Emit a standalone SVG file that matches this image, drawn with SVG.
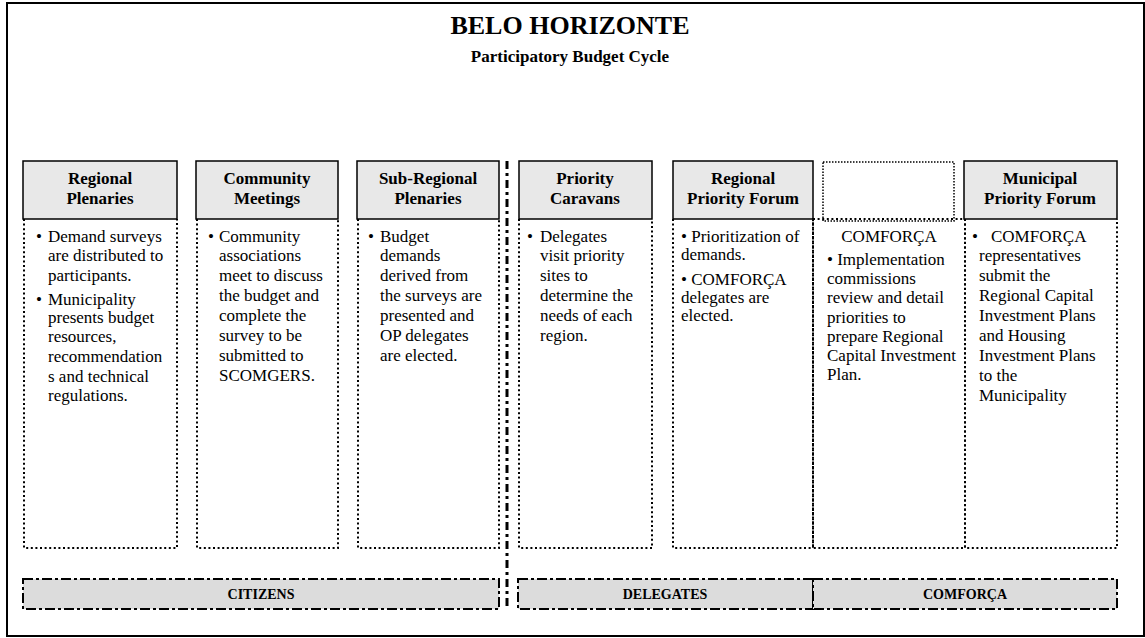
<svg xmlns="http://www.w3.org/2000/svg" width="1145" height="638" viewBox="0 0 1145 638">
<style>
text{font-family:"Liberation Serif","Times New Roman",serif;fill:#000}
.title{font-size:26px;font-weight:bold;text-anchor:middle}
.sub{font-size:17px;font-weight:bold;text-anchor:middle}
.hdr{fill:#e8e8e8;stroke:#000;stroke-width:1.5}
.hdrdot{fill:none;stroke:#000;stroke-width:1.5;stroke-dasharray:1.5 1.5}
.ht{font-size:17px;font-weight:bold;text-anchor:middle}
.body{fill:none;stroke:#000;stroke-width:2;stroke-dasharray:2 2.6}
.bt{font-size:17px}
.band{fill:#dcdcdc;stroke:#000;stroke-width:2;stroke-dasharray:10 3 3 3}
.bl{font-size:14px;font-weight:bold;text-anchor:middle}
.div{fill:none;stroke:#000;stroke-width:3;stroke-dasharray:8 4 3 4}
</style>
<rect x="7" y="3" width="1137" height="633" fill="#fff" stroke="#000" stroke-width="2"/>
<text class="title" x="570" y="34">BELO HORIZONTE</text>
<text class="sub" x="570" y="62">Participatory Budget Cycle</text>

<g id="connectors">
<line class="div" x1="507" y1="161" x2="507" y2="610"/>
</g>

<g id="regional-plenaries">
<path class="body" d="M24 219V548H177V219"/>
<rect class="hdr" x="23" y="161" width="154" height="58"/>
<text class="ht" x="100" y="184">Regional</text>
<text class="ht" x="100" y="204">Plenaries</text>
<text class="bt"><tspan x="36" y="242">•</tspan><tspan x="48" y="242">Demand surveys</tspan><tspan x="48" y="261">are distributed to</tspan><tspan x="48" y="281">participants.</tspan><tspan x="36" y="305">•</tspan><tspan x="48" y="305">Municipality</tspan><tspan x="48" y="323">presents budget</tspan><tspan x="48" y="342">resources,</tspan><tspan x="48" y="362">recommendation</tspan><tspan x="48" y="382">s and technical</tspan><tspan x="48" y="401">regulations.</tspan></text>
</g>

<g id="community-meetings">
<path class="body" d="M197 219V548H338V219"/>
<rect class="hdr" x="196" y="161" width="142" height="58"/>
<text class="ht" x="267" y="184">Community</text>
<text class="ht" x="267" y="204">Meetings</text>
<text class="bt"><tspan x="208" y="242">•</tspan><tspan x="219" y="242">Community</tspan><tspan x="219" y="261">associations</tspan><tspan x="219" y="281">meet to discuss</tspan><tspan x="219" y="301">the budget and</tspan><tspan x="219" y="321">complete the</tspan><tspan x="219" y="341">survey to be</tspan><tspan x="219" y="361">submitted to</tspan><tspan x="219" y="381">SCOMGERS.</tspan></text>
</g>

<g id="sub-regional-plenaries">
<path class="body" d="M358 219V548H499V219"/>
<rect class="hdr" x="357" y="161" width="142" height="58"/>
<text class="ht" x="428" y="184">Sub-Regional</text>
<text class="ht" x="428" y="204">Plenaries</text>
<text class="bt"><tspan x="368" y="242">•</tspan><tspan x="380" y="242">Budget</tspan><tspan x="380" y="261">demands</tspan><tspan x="380" y="281">derived from</tspan><tspan x="380" y="301">the surveys are</tspan><tspan x="380" y="321">presented and</tspan><tspan x="380" y="341">OP delegates</tspan><tspan x="380" y="361">are elected.</tspan></text>
</g>

<g id="priority-caravans">
<path class="body" d="M519 219V548H652V219"/>
<rect class="hdr" x="519" y="161" width="133" height="58"/>
<text class="ht" x="585" y="184">Priority</text>
<text class="ht" x="585" y="204">Caravans</text>
<text class="bt"><tspan x="527" y="242">•</tspan><tspan x="540" y="242">Delegates</tspan><tspan x="540" y="261">visit priority</tspan><tspan x="540" y="281">sites to</tspan><tspan x="540" y="301">determine the</tspan><tspan x="540" y="321">needs of each</tspan><tspan x="540" y="341">region.</tspan></text>
</g>

<g id="regional-priority-forum">
<path class="body" d="M673 219V548H813V219"/>
<rect class="hdr" x="673" y="161" width="140" height="58"/>
<text class="ht" x="743" y="184">Regional</text>
<text class="ht" x="743" y="204">Priority Forum</text>
<text class="bt"><tspan x="681" y="242">• Prioritization of</tspan><tspan x="681" y="260">demands.</tspan><tspan x="681" y="285">• COMFORÇA</tspan><tspan x="681" y="303">delegates are</tspan><tspan x="681" y="321">elected.</tspan></text>
</g>

<g id="comforca">
<path class="body" d="M813 219H965V548H813Z"/>
<rect class="hdrdot" x="823" y="162" width="131" height="59"/>
<text class="bt" x="889" y="242" text-anchor="middle">COMFORÇA</text>
<text class="bt"><tspan x="827" y="265">• Implementation</tspan><tspan x="827" y="284">commissions</tspan><tspan x="827" y="303">review and detail</tspan><tspan x="827" y="323">priorities to</tspan><tspan x="827" y="342">prepare Regional</tspan><tspan x="827" y="361">Capital Investment</tspan><tspan x="827" y="380">Plan.</tspan></text>
</g>

<g id="municipal-priority-forum">
<path class="body" d="M965 219V548H1117V219"/>
<rect class="hdr" x="964" y="161" width="153" height="58"/>
<text class="ht" x="1040" y="184">Municipal</text>
<text class="ht" x="1040" y="204">Priority Forum</text>
<text class="bt"><tspan x="972" y="242">•</tspan><tspan x="991" y="242">COMFORÇA</tspan><tspan x="979" y="261">representatives</tspan><tspan x="979" y="281">submit the</tspan><tspan x="979" y="301">Regional Capital</tspan><tspan x="979" y="321">Investment Plans</tspan><tspan x="979" y="341">and Housing</tspan><tspan x="979" y="361">Investment Plans</tspan><tspan x="979" y="381">to the</tspan><tspan x="979" y="401">Municipality</tspan></text>
</g>

<g id="citizens">
<rect class="band" x="23" y="579" width="476" height="30"/>
<text class="bl" x="261" y="599">CITIZENS</text>
</g>
<g id="delegates">
<rect class="band" x="518" y="579" width="295" height="30"/>
<text class="bl" x="665" y="599">DELEGATES</text>
</g>
<g id="comforca-band">
<rect class="band" x="813" y="579" width="304" height="30"/>
<text class="bl" x="965" y="599">COMFORÇA</text>
</g>
</svg>
